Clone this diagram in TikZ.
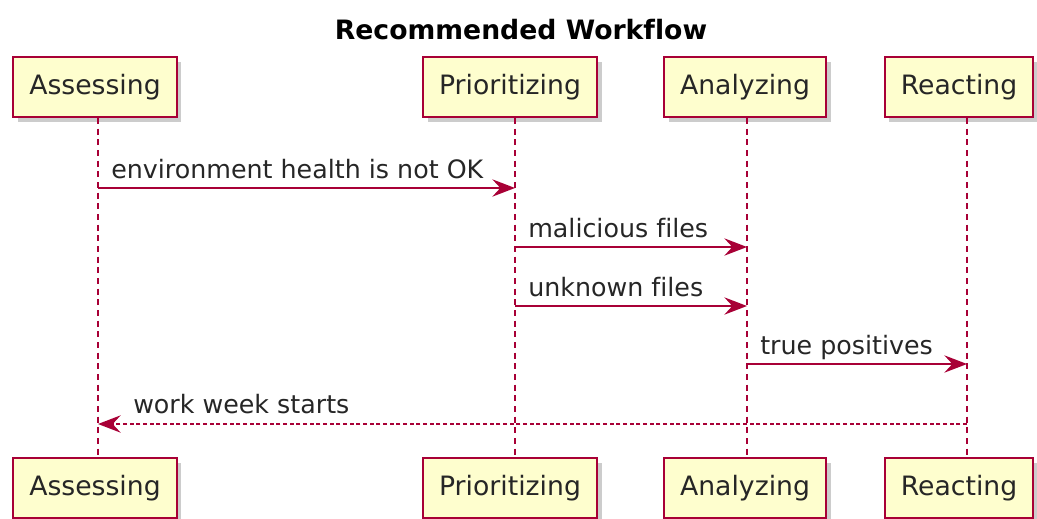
\documentclass[tikz,border=0pt]{standalone}
\usepackage{fontspec}
\setmainfont{DejaVu Sans}[Ligatures = {NoCommon}]
\usetikzlibrary{arrows.meta}
\usetikzlibrary{positioning}
\usetikzlibrary{shadows}
\definecolor{umlred}{HTML}{A80036}
\definecolor{umlfill}{HTML}{FEFECE}
\tikzset{actor/.style = {draw = umlred, fill = umlfill, line width = 1.5pt,
                         minimum height = 45pt, inner xsep = 12pt, text = black!85,
                         font = \fontsize{20}{24}\selectfont,
                         drop shadow = {shadow xshift = 3.5pt, shadow yshift = -3.5pt,
                                        fill = black, opacity = 0.2}}}
\tikzset{life/.style = {draw = umlred, line width = 0.9pt, dash pattern = on 4.5pt off 3.5pt}}
\tikzset{msg/.style = {draw = umlred, line width = 1.1pt,
                       -{Stealth[length = 17pt, width = 13pt, inset = 6pt]}}}
\tikzset{ret/.style = {msg, dash pattern = on 3pt off 2pt}}
\tikzset{lbl/.style = {font = \fontsize{19}{23}\selectfont, text = black!85,
                       inner sep = 0, anchor = base west}}

\begin{document}
\begin{tikzpicture}[x = 0.75pt, y = -0.75pt]
      \useasboundingbox (0, 0) rectangle (1037, 518);

      \node (title) at (521, 30) {\fontsize{20}{24}\selectfont\bfseries Recommended Workflow};

      \node [actor] (assess) at (95, 87) {Assessing};
      \node [actor] (prior) at (510, 87) {Prioritizing};
      \node [actor] (analyze) at (745, 87) {Analyzing};
      \node [actor] (react) at (959, 87) {Reacting};

      \node [actor] (assess2) at (95, 488) {Assessing};
      \node [actor] (prior2) at (510, 488) {Prioritizing};
      \node [actor] (analyze2) at (745, 488) {Analyzing};
      \node [actor] (react2) at (959, 488) {Reacting};

      \coordinate (la) at (98, 0);
      \coordinate (lp) at (515, 0);
      \coordinate (ln) at (747, 0);
      \coordinate (lr) at (967, 0);

      \draw [life] (la |- assess.south) -- (la |- assess2.north);
      \draw [life] (lp |- prior.south) -- (lp |- prior2.north);
      \draw [life] (ln |- analyze.south) -- (ln |- analyze2.north);
      \draw [life] (lr |- react.south) -- (lr |- react2.north);

      \draw [msg] (la |- 0, 188) -- (lp |- 0, 188);
      \node [lbl] (m1) at (111, 178) {environment health is not OK};

      \draw [msg] (lp |- 0, 247) -- (ln |- 0, 247);
      \node [lbl] (m2) at (528, 237) {malicious files};

      \draw [msg] (lp |- 0, 306) -- (ln |- 0, 306);
      \node [lbl] (m3) at (528, 296) {unknown files};

      \draw [msg] (ln |- 0, 364) -- (lr |- 0, 364);
      \node [lbl] (m4) at (760, 354) {true positives};

      \draw [ret] (lr |- 0, 424) -- (la |- 0, 424);
      \node [lbl] (m5) at (133, 413) {work week starts};
    \end{tikzpicture}
\end{document}
